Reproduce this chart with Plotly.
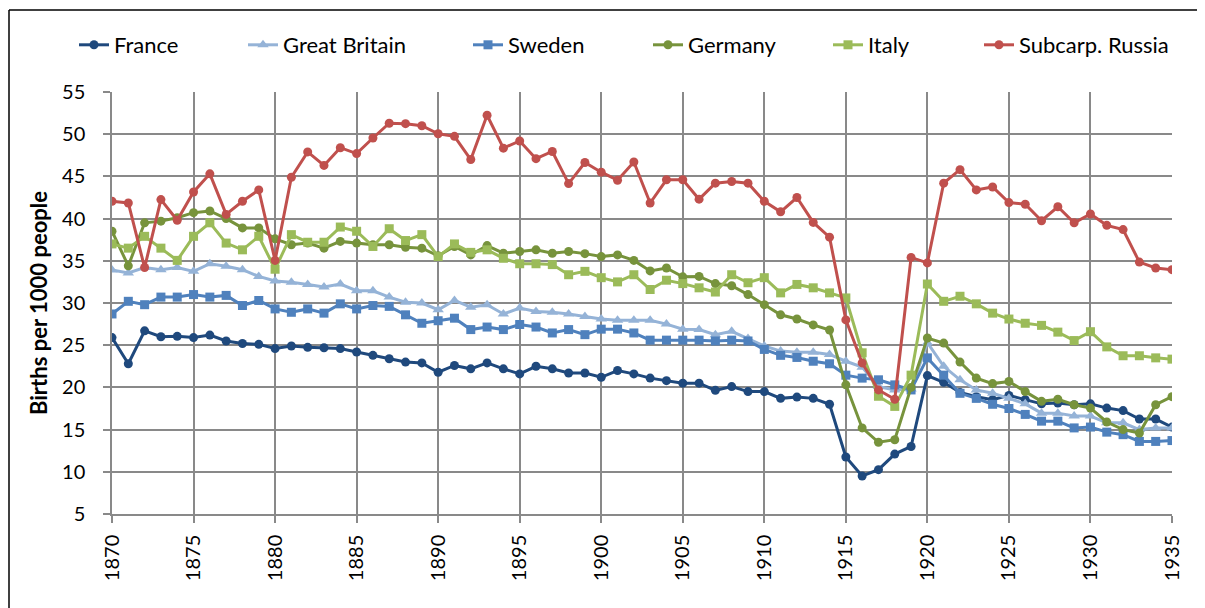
import plotly.graph_objects as go

years = list(range(1870, 1936))

france = [25.9, 22.8, 26.7, 26.0, 26.05, 25.9, 26.2, 25.5, 25.2, 25.1,
          24.6, 24.9, 24.75, 24.7, 24.6, 24.2, 23.8, 23.4, 23.0, 22.9,
          21.8, 22.6, 22.2, 22.9, 22.2, 21.6, 22.5, 22.2, 21.7, 21.7,
          21.2, 22.0, 21.6, 21.1, 20.8, 20.5, 20.5, 19.65, 20.1, 19.5,
          19.5, 18.7, 18.85, 18.7, 18.0, 11.75, 9.5, 10.25, 12.1, 13.0,
          21.4, 20.6, 19.4, 18.9, 18.55, 19.05, 18.55, 18.05, 18.15, 17.95,
          18.05, 17.55, 17.25, 16.25, 16.25, 15.3]

great_britain = [33.9, 33.55, 34.2, 33.95, 34.2, 33.75, 34.65, 34.35, 33.95, 33.15,
                 32.6, 32.45, 32.2, 31.9, 32.25, 31.45, 31.45, 30.7, 30.1, 30.0,
                 29.2, 30.3, 29.5, 29.8, 28.7, 29.4, 29.0, 28.9, 28.7, 28.4,
                 28.1, 27.95, 27.95, 27.95, 27.5, 26.9, 26.85, 26.25, 26.65, 25.8,
                 24.9, 24.3, 24.15, 24.15, 23.9, 23.1, 22.4, 20.1, 19.7, 19.8,
                 25.3, 22.5, 20.9, 19.7, 19.3, 18.7, 18.05, 16.95, 16.95, 16.6,
                 16.6, 15.8, 15.8, 15.0, 15.2, 15.2]

sweden = [28.7, 30.2, 29.8, 30.7, 30.7, 31.0, 30.7, 30.9, 29.7, 30.3,
          29.3, 28.9, 29.3, 28.8, 29.9, 29.3, 29.7, 29.6, 28.6, 27.6,
          27.9, 28.2, 26.85, 27.15, 26.85, 27.45, 27.15, 26.45, 26.85, 26.25,
          26.9, 26.9, 26.45, 25.6, 25.6, 25.6, 25.6, 25.5, 25.6, 25.5,
          24.5, 23.8, 23.55, 23.1, 22.8, 21.45, 21.1, 20.9, 20.3, 19.7,
          23.5, 21.45, 19.3, 18.7, 18.0, 17.5, 16.8, 16.0, 16.0, 15.2,
          15.3, 14.7, 14.4, 13.6, 13.6, 13.7]

germany = [38.5, 34.4, 39.5, 39.7, 40.1, 40.7, 40.9, 40.0, 38.9, 38.9,
           37.6, 36.9, 37.1, 36.5, 37.3, 37.1, 36.9, 36.9, 36.6, 36.5,
           35.6, 36.7, 35.7, 36.8, 35.9, 36.1, 36.3, 35.9, 36.1, 35.85,
           35.5, 35.7, 35.05, 33.8, 34.15, 33.1, 33.15, 32.3, 32.05, 31.0,
           29.8, 28.6, 28.1, 27.4, 26.8, 20.3, 15.2, 13.5, 13.8, 20.0,
           25.85, 25.25, 23.0, 21.1, 20.45, 20.7, 19.5, 18.35, 18.6, 17.95,
           17.55, 15.9, 15.0, 14.6, 17.95, 18.9]

italy = [37.0, 36.5, 37.9, 36.5, 35.05, 37.9, 39.5, 37.1, 36.3, 37.9,
         34.0, 38.1, 37.2, 37.2, 39.0, 38.5, 36.7, 38.8, 37.4, 38.1,
         35.5, 37.0, 36.0, 36.3, 35.3, 34.65, 34.65, 34.55, 33.35, 33.75,
         33.0, 32.5, 33.35, 31.6, 32.7, 32.3, 31.8, 31.3, 33.35, 32.4,
         33.0, 31.2, 32.2, 31.8, 31.2, 30.6, 24.1, 18.95, 17.75, 21.45,
         32.25, 30.2, 30.8, 29.9, 28.8, 28.1, 27.6, 27.35, 26.55, 25.55,
         26.6, 24.8, 23.75, 23.75, 23.5, 23.35]

subcarp_russia = [42.05, 41.85, 34.2, 42.25, 39.8, 43.15, 45.3, 40.5, 42.05, 43.4,
                  35.05, 44.9, 47.9, 46.3, 48.4, 47.7, 49.55, 51.3, 51.25, 51.0,
                  50.05, 49.75, 47.0, 52.25, 48.35, 49.2, 47.1, 47.95, 44.15, 46.65,
                  45.5, 44.55, 46.7, 41.85, 44.6, 44.6, 42.3, 44.2, 44.4, 44.2,
                  42.05, 40.8, 42.5, 39.55, 37.8, 28.0, 22.9, 19.7, 18.6, 35.4,
                  34.75, 44.2, 45.8, 43.4, 43.75, 41.9, 41.7, 39.75, 41.4, 39.5,
                  40.55, 39.2, 38.7, 34.85, 34.15, 33.95]

series_names = ["France", "Great Britain", "Sweden", "Germany", "Italy", "Subcarp. Russia"]
series_values = [france, great_britain, sweden, germany, italy, subcarp_russia]
colors = ["#1F497D", "#95B3D7", "#4F81BD", "#77933C", "#9BBB59", "#C0504D"]
symbols = ["circle", "triangle-up", "square", "circle", "square", "circle"]

# page is offset by the 8px body margin
OFF = 8
W, H = 1205 - OFF, 608 - OFF
PL, PR, PT, PB = 112 - OFF, 1172 - OFF, 92 - OFF, 514 - OFF
PW, PH = PR - PL, PB - PT

# legend text start positions (screen px)
legend_text_x = [116, 285, 510, 690, 870, 1021]

FONT = "Lato, 'Open Sans', sans-serif"

fig = go.Figure()
layout_legends = {}
for i, (name, vals, color, sym) in enumerate(zip(series_names, series_values, colors, symbols)):
    key = "legend" if i == 0 else f"legend{i + 1}"
    fig.add_trace(go.Scatter(
        x=years, y=vals, name=name, mode="lines+markers",
        line=dict(color=color, width=3),
        marker=dict(color=color, symbol=sym, size=9 if sym != "triangle-up" else 10),
        legend=key,
    ))
    lx = (legend_text_x[i] - OFF - 42 - PL) / PW
    layout_legends[key] = dict(
        x=lx, xanchor="left", y=1 + (PT - (45 - OFF)) / PH, yanchor="middle",
        orientation="h", font=dict(size=22, family=FONT, color="black"),
        bgcolor="rgba(0,0,0,0)", borderwidth=0,
    )

fig.update_layout(
    width=W, height=H,
    margin=dict(l=PL, r=W - PR, t=PT, b=H - PB),
    paper_bgcolor="white", plot_bgcolor="white",
    font=dict(family=FONT, size=20, color="black"),
    showlegend=True,
    xaxis=dict(range=[1870, 1935], tickmode="linear", tick0=1870, dtick=5,
               tickangle=-90, showgrid=True, gridcolor="#898989", gridwidth=1.5,
               showline=True, linecolor="#898989", linewidth=1.5,
               ticks="outside", ticklen=7, tickcolor="#898989", tickwidth=1.5,
               ticklabelstandoff=4,
               tickfont=dict(size=20), zeroline=False),
    yaxis=dict(range=[5, 55], tickmode="linear", tick0=5, dtick=5,
               showgrid=True, gridcolor="#898989", gridwidth=1.5,
               showline=True, linecolor="#898989", linewidth=1.5,
               ticks="outside", ticklen=7, tickcolor="#898989", tickwidth=1.5,
               ticklabelstandoff=14,
               tickfont=dict(size=20), zeroline=False,
               title=dict(text="<b>Births per 1000 people</b>", font=dict(size=22), standoff=8)),
    shapes=[
        dict(type="line", xref="paper", yref="paper",
             x0=(1 - PL) / PW, x1=(W + 5 - PL) / PW,
             y0=(PB - 2) / PH, y1=(PB - 2) / PH,
             line=dict(color="black", width=1.5)),
        dict(type="line", xref="paper", yref="paper",
             x0=(1 - PL) / PW, x1=(1 - PL) / PW,
             y0=(PB - 2) / PH, y1=(PB - H - 10) / PH,
             line=dict(color="black", width=1.5)),
    ],
    **layout_legends,
)

fig.write_html("out.html")
